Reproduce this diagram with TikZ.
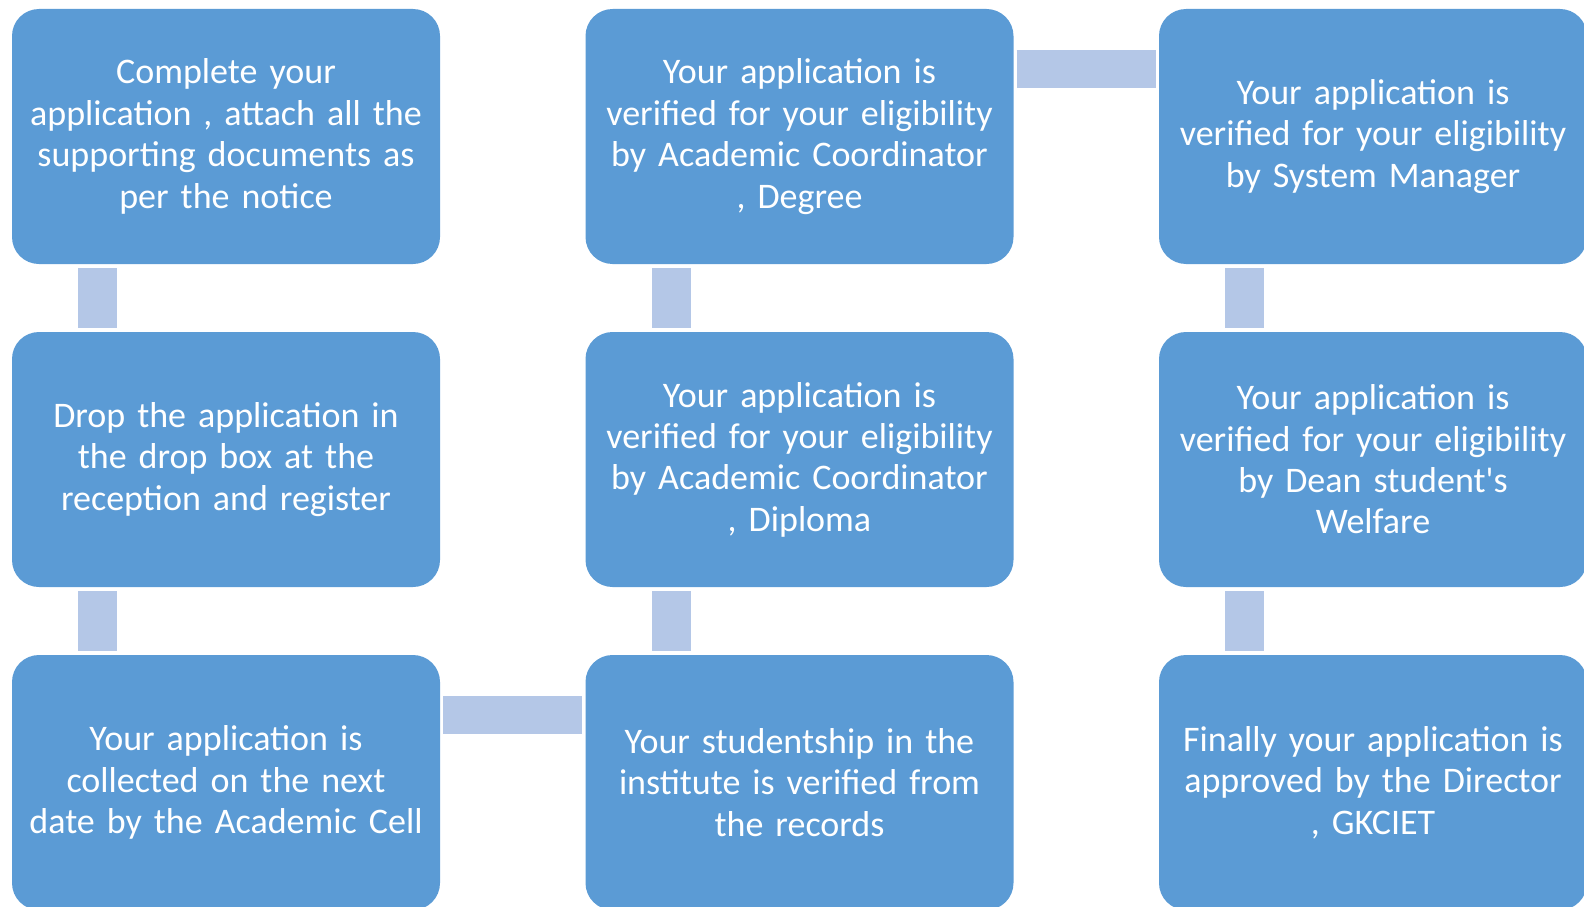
\documentclass[tikz,border=0pt]{standalone}
\usepackage{fontspec}
\setmainfont{Carlito}
\usepackage{tikz}
\usetikzlibrary{positioning}
\definecolor{boxblue}{HTML}{5B9BD5}
\definecolor{linkblue}{HTML}{B4C7E7}
\tikzset{blk/.style={rectangle,rounded corners=27pt,fill=boxblue,text=white,minimum width=428pt,minimum height=255pt,text width=420pt,align=center,inner sep=0pt,font=\fontsize{36}{41.4}\selectfont}}
\tikzset{vlink/.style={draw=linkblue,line width=39pt,shorten <=4pt,shorten >=4pt}}
\tikzset{hlink/.style={draw=linkblue,line width=38pt,shorten <=3pt,shorten >=3pt}}

\begin{document}
\begin{tikzpicture}[x=1pt,y=-1pt]
        \useasboundingbox (0,0) rectangle (1584,907);
        \node[blk] (apply)at (226,136.5) {Complete your\\application , attach all the\\supporting documents as\\per the notice};
        \node[blk] (drop)at (226,459.5) {Drop the application in\\the drop box at the\\reception and register};
        \node[blk] (collect)at (226,782.5) {Your application is\\collected on the next\\date by the Academic Cell};
        \node[blk] (record)at (799.5,782.5) {Your studentship in the\\institute is verified from\\the records};
        \node[blk] (diploma)at (799.5,459.5) {Your application is\\verified for your eligibility\\by Academic Coordinator\\, Diploma};
        \node[blk] (degree)at (799.5,136.5) {Your application is\\verified for your eligibility\\by Academic Coordinator\\, Degree};
        \node[blk] (sysman)at (1373,136.5) {Your application is\\verified for your eligibility\\by System Manager};
        \node[blk] (dean)at (1373,459.5) {Your application is\\verified for your eligibility\\by Dean student\textquotesingle s\\Welfare};
        \node[blk] (director)at (1373,782.5) {Finally your application is\\approved by the Director\\, GKCIET};

        \draw [vlink] ([xshift=86pt]apply.south west) to [] ([xshift=86pt]drop.north west);
        \draw [vlink] ([xshift=86pt]drop.south west) to [] ([xshift=86pt]collect.north west);
        \draw [hlink] ([yshift=-60pt]collect.north east) to [] ([yshift=-60pt]record.north west);
        \draw [vlink] ([xshift=86pt]record.north west) to [] ([xshift=86pt]diploma.south west);
        \draw [vlink] ([xshift=86pt]diploma.north west) to [] ([xshift=86pt]degree.south west);
        \draw [hlink] ([yshift=-60pt]degree.north east) to [] ([yshift=-60pt]sysman.north west);
        \draw [vlink] ([xshift=86pt]sysman.south west) to [] ([xshift=86pt]dean.north west);
        \draw [vlink] ([xshift=86pt]dean.south west) to [] ([xshift=86pt]director.north west);
    \end{tikzpicture}
\end{document}
